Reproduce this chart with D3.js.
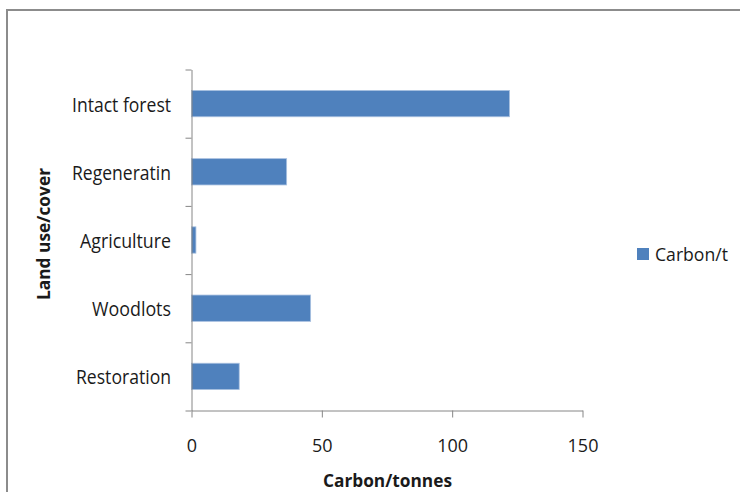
<!DOCTYPE html>
<html><head><meta charset="utf-8">
<script src="https://cdn.jsdelivr.net/npm/d3@7"></script>
<style>html,body{margin:0;padding:0;background:#fff;}svg{display:block;font-family:"Open Sans",sans-serif;}</style>
</head><body>
<svg id="chart" width="740" height="492"></svg>
<script>
const categories = ["Intact forest","Regeneratin","Agriculture","Woodlots","Restoration"];
const carbonValues = [122, 36.5, 1.7, 45.7, 18.3];
const xTickValues = [0, 50, 100, 150];
const seriesName = "Carbon/t";
const xTitle = "Carbon/tonnes";
const yTitle = "Land use/cover";

const svg = d3.select("#chart");
const barColor = "#4F81BD", axisColor = "#868686";

// outer frame
svg.append("rect").attr("x",7).attr("y",10).attr("width",800).attr("height",600)
  .attr("fill","#fff").attr("stroke","#8c8c8c").attr("stroke-width",2);

const x = d3.scaleLinear().domain([0,150]).range([191.5, 582.5]);
const y = d3.scaleBand().domain(categories).range([69.5, 410.5]).paddingInner(0.614).paddingOuter(0.307);
const yEdge = d3.scaleLinear().domain([0, categories.length]).range([69.5, 410.5]);

// bars
svg.append("g").selectAll("rect").data(categories).join("rect")
  .attr("x", x(0)).attr("y", d => y(d))
  .attr("width", (d,i) => x(carbonValues[i]) - x(0))
  .attr("height", y.bandwidth())
  .attr("fill", barColor).attr("stroke","#a9c1e0").attr("stroke-width",0.8);

// y axis (ticks at category boundaries)
const yAxisG = svg.append("g").attr("transform",`translate(${x(0)},0)`)
  .call(d3.axisLeft(yEdge).tickValues(d3.range(categories.length+1)).tickSize(6).tickSizeOuter(0).tickFormat(""));
yAxisG.selectAll("path,line").attr("stroke", axisColor);

// category labels
const labelWidths = {"Intact forest":99,"Regeneratin":99,"Agriculture":91,"Woodlots":79,"Restoration":95};
svg.append("g").selectAll("text").data(categories).join("text")
  .attr("x", 171).attr("y", d => y(d) + y.bandwidth()/2 + 8)
  .attr("text-anchor","end").attr("font-size",20).attr("fill","#1a1a1a")
  .attr("textLength", d => labelWidths[d]).attr("lengthAdjust","spacingAndGlyphs")
  .text(d => d);

// x axis
const xAxisG = svg.append("g").attr("transform",`translate(0,410.5)`)
  .call(d3.axisBottom(x).tickValues(xTickValues).tickSize(7).tickPadding(22).tickSizeOuter(0));
xAxisG.selectAll("path,line").attr("stroke", axisColor);
xAxisG.selectAll("text").attr("font-size",18).attr("font-family","\"Open Sans\",sans-serif").attr("fill","#1a1a1a");

// axis titles
svg.append("text").attr("x",387.5).attr("y",486.5).attr("text-anchor","middle")
  .attr("font-size",18).attr("font-weight","bold").attr("fill","#1a1a1a")
  .attr("textLength",129).attr("lengthAdjust","spacingAndGlyphs").text(xTitle);
svg.append("text").attr("transform","translate(50,234) rotate(-90)").attr("text-anchor","middle")
  .attr("font-size",18).attr("font-weight","bold").attr("fill","#1a1a1a")
  .attr("textLength",132).attr("lengthAdjust","spacingAndGlyphs").text(yTitle);

// legend
const lg = svg.append("g");
lg.append("rect").attr("x",637).attr("y",248).attr("width",12).attr("height",12).attr("fill",barColor);
lg.append("text").attr("x",655).attr("y",260.5).attr("font-size",19).attr("fill","#1a1a1a")
  .attr("textLength",73).attr("lengthAdjust","spacingAndGlyphs").text(seriesName);
</script>
</body></html>
